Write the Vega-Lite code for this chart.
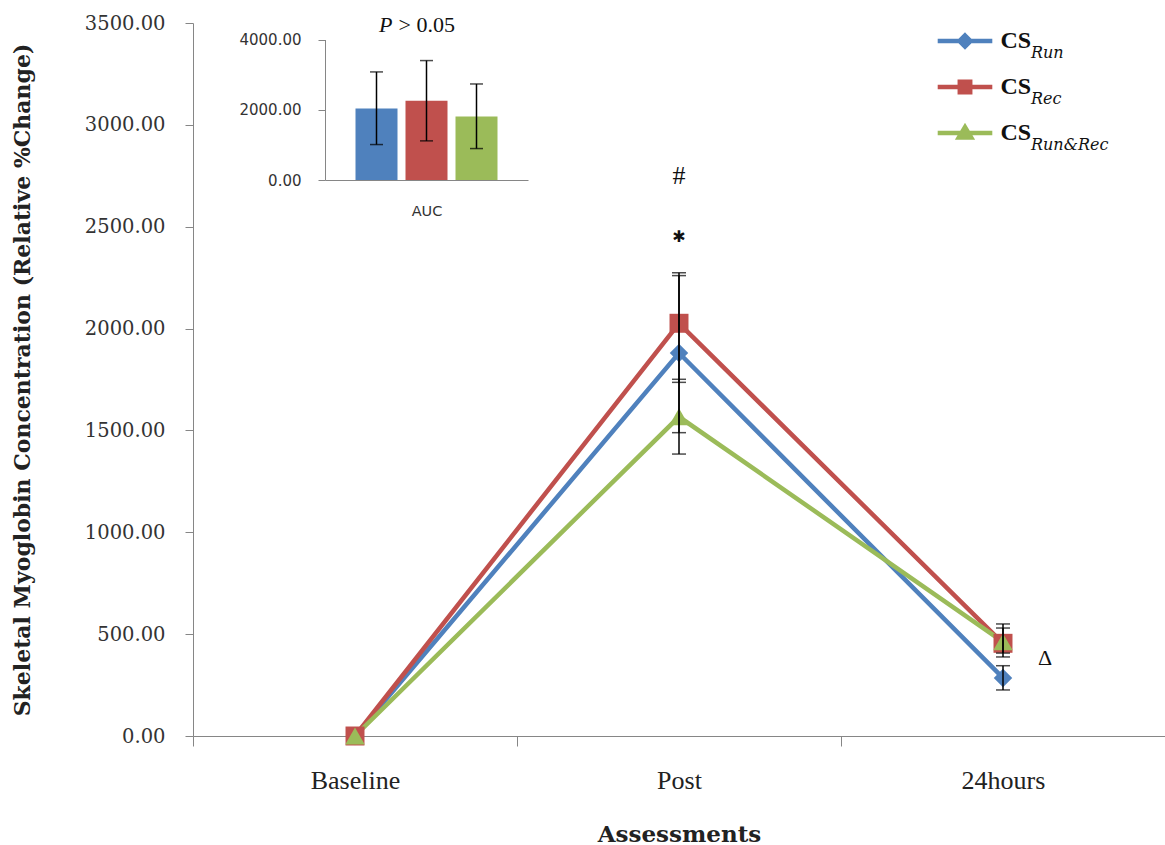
{
  "$schema": "https://vega.github.io/schema/vega-lite/v6.json",
  "width": 972,
  "height": 713,
  "autosize": {"type": "none"},
  "padding": {"left": 193, "top": 23, "right": 0, "bottom": 109},
  "background": "white",
  "config": {"view": {"stroke": null}, "axis": {"grid": false}},
  "datasets": {
    "main": [
      {"time": "Baseline", "series": "CS Run", "value": 0, "lo": null, "hi": null},
      {"time": "Baseline", "series": "CS Rec", "value": 0, "lo": null, "hi": null},
      {"time": "Baseline", "series": "CS Run&Rec", "value": 0, "lo": null, "hi": null},
      {"time": "Post", "series": "CS Run", "value": 1880, "lo": 1489, "hi": 2260},
      {"time": "Post", "series": "CS Rec", "value": 2026, "lo": 1736, "hi": 2274},
      {"time": "Post", "series": "CS Run&Rec", "value": 1567, "lo": 1384, "hi": 1751},
      {"time": "24hours", "series": "CS Run", "value": 285, "lo": 226, "hi": 345},
      {"time": "24hours", "series": "CS Rec", "value": 455, "lo": 388, "hi": 550},
      {"time": "24hours", "series": "CS Run&Rec", "value": 462, "lo": 407, "hi": 530}
    ],
    "auc": [
      {"series": "CS Run", "value": 2037, "lo": 1009, "hi": 3077},
      {"series": "CS Rec", "value": 2257, "lo": 1114, "hi": 3400},
      {"series": "CS Run&Rec", "value": 1810, "lo": 895, "hi": 2734}
    ]
  },
  "layer": [
    {
      "data": {"name": "main"},
      "mark": {"type": "line", "strokeWidth": 4.5},
      "encoding": {
        "x": {
          "field": "time", "type": "nominal", "sort": ["Baseline", "Post", "24hours"],
          "scale": {"type": "band", "domain": ["Baseline", "Post", "24hours"], "paddingInner": 0, "paddingOuter": 0},
          "axis": {
            "orient": "bottom", "title": "Assessments", "labelAngle": 0, "tickBand": "extent",
            "domainColor": "#868686", "tickColor": "#868686", "tickSize": 10,
            "labelFont": "Liberation Serif", "labelFontSize": 26, "labelColor": "#222", "labelPadding": 21,
            "titleFont": "DejaVu Serif", "titleFontWeight": "bold", "titleFontSize": 23, "titleColor": "#222", "titlePadding": 30
          }
        },
        "y": {
          "field": "value", "type": "quantitative",
          "scale": {"domain": [0, 3500], "nice": false},
          "axis": {
            "orient": "left",
            "title": "Skeletal Myoglobin Concentration (Relative %Change)",
            "values": [0, 500, 1000, 1500, 2000, 2500, 3000, 3500], "format": ".2f",
            "domainColor": "#868686", "tickColor": "#868686", "tickSize": 8,
            "labelFont": "DejaVu Serif", "labelFontSize": 19.5, "labelColor": "#333", "labelPadding": 20,
            "titleFont": "DejaVu Serif", "titleFontWeight": "bold", "titleFontSize": 22, "titleColor": "#222", "titlePadding": 50
          }
        },
        "color": {
          "field": "series", "type": "nominal",
          "scale": {"domain": ["CS Run", "CS Rec", "CS Run&Rec"], "range": ["#4F81BD", "#C0504D", "#9BBB59"]},
          "legend": null
        }
      }
    },
    {
      "data": {"name": "main"},
      "mark": {"type": "point", "filled": true, "opacity": 1, "strokeWidth": 0},
      "encoding": {
        "x": {"field": "time", "type": "nominal", "sort": ["Baseline", "Post", "24hours"], "scale": {"type": "band", "domain": ["Baseline", "Post", "24hours"], "paddingInner": 0, "paddingOuter": 0}, "axis": null},
        "y": {"field": "value", "type": "quantitative", "scale": {"domain": [0, 3500], "nice": false}, "axis": null},
        "color": {"field": "series", "type": "nominal", "scale": {"domain": ["CS Run", "CS Rec", "CS Run&Rec"], "range": ["#4F81BD", "#C0504D", "#9BBB59"]}, "legend": null},
        "shape": {"field": "series", "type": "nominal", "scale": {"domain": ["CS Run", "CS Rec", "CS Run&Rec"], "range": ["diamond", "square", "triangle-up"]}, "legend": null},
        "size": {"field": "series", "type": "nominal", "scale": {"domain": ["CS Run", "CS Rec", "CS Run&Rec"], "range": [340, 380, 330]}, "legend": null}
      }
    },
    {
      "data": {"name": "main"},
      "mark": {"type": "rule", "color": "black", "strokeWidth": 1.5},
      "encoding": {
        "x": {"field": "time", "type": "nominal", "sort": ["Baseline", "Post", "24hours"], "scale": {"type": "band", "domain": ["Baseline", "Post", "24hours"], "paddingInner": 0, "paddingOuter": 0}, "axis": null},
        "y": {"field": "lo", "type": "quantitative", "scale": {"domain": [0, 3500], "nice": false}, "axis": null},
        "y2": {"field": "hi"}
      }
    },
    {
      "data": {"name": "main"},
      "mark": {"type": "tick", "color": "black", "thickness": 1.5, "size": 14},
      "encoding": {
        "x": {"field": "time", "type": "nominal", "sort": ["Baseline", "Post", "24hours"], "scale": {"type": "band", "domain": ["Baseline", "Post", "24hours"], "paddingInner": 0, "paddingOuter": 0}, "axis": null},
        "y": {"field": "lo", "type": "quantitative", "scale": {"domain": [0, 3500], "nice": false}, "axis": null}
      }
    },
    {
      "data": {"name": "main"},
      "mark": {"type": "tick", "color": "black", "thickness": 1.5, "size": 14},
      "encoding": {
        "x": {"field": "time", "type": "nominal", "sort": ["Baseline", "Post", "24hours"], "scale": {"type": "band", "domain": ["Baseline", "Post", "24hours"], "paddingInner": 0, "paddingOuter": 0}, "axis": null},
        "y": {"field": "hi", "type": "quantitative", "scale": {"domain": [0, 3500], "nice": false}, "axis": null}
      }
    },
    {
      "data": {"values": [{"time": "Post", "y": 2750, "label": "#"}]},
      "mark": {"type": "text", "font": "Liberation Serif", "fontSize": 26, "color": "#111"},
      "encoding": {
        "x": {"field": "time", "type": "nominal", "scale": {"type": "band", "domain": ["Baseline", "Post", "24hours"], "paddingInner": 0, "paddingOuter": 0}, "axis": null},
        "y": {"field": "y", "type": "quantitative", "scale": {"domain": [0, 3500], "nice": false}, "axis": null},
        "text": {"field": "label"}
      }
    },
    {
      "data": {"values": [{"time": "Post", "y": 2450, "label": "✱"}]},
      "mark": {"type": "text", "font": "DejaVu Sans", "fontSize": 16, "color": "#111"},
      "encoding": {
        "x": {"field": "time", "type": "nominal", "scale": {"type": "band", "domain": ["Baseline", "Post", "24hours"], "paddingInner": 0, "paddingOuter": 0}, "axis": null},
        "y": {"field": "y", "type": "quantitative", "scale": {"domain": [0, 3500], "nice": false}, "axis": null},
        "text": {"field": "label"}
      }
    },
    {
      "data": {"values": [{"time": "24hours", "y": 385, "label": "Δ"}]},
      "mark": {"type": "text", "font": "Liberation Serif", "fontSize": 22, "color": "#111", "dx": 42},
      "encoding": {
        "x": {"field": "time", "type": "nominal", "scale": {"type": "band", "domain": ["Baseline", "Post", "24hours"], "paddingInner": 0, "paddingOuter": 0}, "axis": null},
        "y": {"field": "y", "type": "quantitative", "scale": {"domain": [0, 3500], "nice": false}, "axis": null},
        "text": {"field": "label"}
      }
    },
    {
      "data": {"values": []},
      "mark": {"type": "point", "filled": true, "opacity": 1, "strokeWidth": 4.5},
      "encoding": {
        "color": {
          "field": "series", "type": "nominal",
          "scale": {"domain": ["CS Run", "CS Rec", "CS Run&Rec"], "range": ["#4F81BD", "#C0504D", "#9BBB59"]},
          "legend": {
            "orient": "none", "legendX": 760, "legendY": 6, "title": null, "padding": 0,
            "symbolSize": 169, "symbolStrokeWidth": 4.5, "symbolOpacity": 1, "labelOffset": 23.5,
            "labelFont": "Liberation Serif", "labelFontWeight": "bold", "labelFontSize": 24, "labelColor": "#111",
            "labelExpr": "'CS'", "rowPadding": 16
          }
        },
        "stroke": {
          "field": "series", "type": "nominal",
          "scale": {"domain": ["CS Run", "CS Rec", "CS Run&Rec"], "range": ["#4F81BD", "#C0504D", "#9BBB59"]}
        },
        "shape": {
          "field": "series", "type": "nominal",
          "scale": {"domain": ["CS Run", "CS Rec", "CS Run&Rec"], "range": [
            "M0,-0.85L0.85,0L0,0.85L-0.85,0Z M-4.2,0H4.2",
            "M-0.8,-0.8H0.8V0.8H-0.8Z M-4.2,0H4.2",
            "M0,-0.9L0.95,0.7H-0.95Z M-4.2,0H4.2"
          ]}
        }
      }
    },
    {
      "data": {"values": []},
      "mark": {"type": "point"},
      "encoding": {
        "strokeDash": {
          "field": "sub", "type": "nominal",
          "scale": {"domain": ["Run", "Rec", "Run&Rec"]},
          "legend": {
            "orient": "none", "legendX": 822, "legendY": 22, "title": null, "padding": 0,
            "symbolSize": 1, "symbolOpacity": 0, "labelOffset": 0,
            "labelFont": "DejaVu Serif", "labelFontStyle": "italic", "labelFontSize": 16, "labelColor": "#111",
            "rowPadding": 30
          }
        }
      }
    },
    {
      "data": {"name": "auc"},
      "mark": {"type": "bar"},
      "encoding": {
        "x": {
          "field": "series", "type": "nominal", "sort": ["CS Run", "CS Rec", "CS Run&Rec"],
          "scale": {"type": "band", "domain": ["CS Run", "CS Rec", "CS Run&Rec"], "range": [132, 335], "paddingInner": 0.16, "paddingOuter": 0.61},
          "axis": {
            "orient": "bottom", "offset": -556, "labels": false, "ticks": false, "title": "AUC",
            "domainColor": "#868686", "titleFont": "DejaVu Sans", "titleFontSize": 14.5, "titleFontWeight": "normal",
            "titleColor": "#333", "titlePadding": 24
          }
        },
        "y": {
          "field": "value", "type": "quantitative",
          "scale": {"domain": [0, 4000], "nice": false, "range": [157, 16.5]},
          "axis": {
            "orient": "left", "offset": -132, "values": [0, 2000, 4000], "format": ".2f", "title": null,
            "domainColor": "#868686", "tickColor": "#868686", "tickSize": 7,
            "labelFont": "DejaVu Sans", "labelFontSize": 15, "labelColor": "#333", "labelPadding": 17
          }
        },
        "color": {
          "field": "series", "type": "nominal",
          "scale": {"domain": ["CS Run", "CS Rec", "CS Run&Rec"], "range": ["#4F81BD", "#C0504D", "#9BBB59"]},
          "legend": null
        }
      }
    },
    {
      "data": {"name": "auc"},
      "mark": {"type": "rule", "color": "black", "strokeWidth": 1.5},
      "encoding": {
        "x": {"field": "series", "type": "nominal", "scale": {"type": "band", "domain": ["CS Run", "CS Rec", "CS Run&Rec"], "range": [132, 335], "paddingInner": 0.16, "paddingOuter": 0.61}, "axis": null},
        "y": {"field": "lo", "type": "quantitative", "scale": {"domain": [0, 4000], "nice": false, "range": [157, 16.5]}, "axis": null},
        "y2": {"field": "hi"}
      }
    },
    {
      "data": {"name": "auc"},
      "mark": {"type": "tick", "color": "black", "thickness": 1.5, "size": 13},
      "encoding": {
        "x": {"field": "series", "type": "nominal", "scale": {"type": "band", "domain": ["CS Run", "CS Rec", "CS Run&Rec"], "range": [132, 335], "paddingInner": 0.16, "paddingOuter": 0.61}, "axis": null},
        "y": {"field": "lo", "type": "quantitative", "scale": {"domain": [0, 4000], "nice": false, "range": [157, 16.5]}, "axis": null}
      }
    },
    {
      "data": {"name": "auc"},
      "mark": {"type": "tick", "color": "black", "thickness": 1.5, "size": 13},
      "encoding": {
        "x": {"field": "series", "type": "nominal", "scale": {"type": "band", "domain": ["CS Run", "CS Rec", "CS Run&Rec"], "range": [132, 335], "paddingInner": 0.16, "paddingOuter": 0.61}, "axis": null},
        "y": {"field": "hi", "type": "quantitative", "scale": {"domain": [0, 4000], "nice": false, "range": [157, 16.5]}, "axis": null}
      }
    },
    {
      "data": {"values": [{"series": "CS Rec", "y": 4413, "label": "P"}]},
      "mark": {"type": "text", "font": "Liberation Serif", "fontStyle": "italic", "fontSize": 22, "color": "#111", "align": "right", "dx": -34},
      "encoding": {
        "x": {"field": "series", "type": "nominal", "scale": {"type": "band", "domain": ["CS Run", "CS Rec", "CS Run&Rec"], "range": [132, 335], "paddingInner": 0.16, "paddingOuter": 0.61}, "axis": null},
        "y": {"field": "y", "type": "quantitative", "scale": {"domain": [0, 4000], "nice": false, "range": [157, 16.5]}, "axis": null},
        "text": {"field": "label"}
      }
    },
    {
      "data": {"values": [{"series": "CS Rec", "y": 4413, "label": "> 0.05"}]},
      "mark": {"type": "text", "font": "Liberation Serif", "fontSize": 22, "color": "#111", "align": "left", "dx": -28},
      "encoding": {
        "x": {"field": "series", "type": "nominal", "scale": {"type": "band", "domain": ["CS Run", "CS Rec", "CS Run&Rec"], "range": [132, 335], "paddingInner": 0.16, "paddingOuter": 0.61}, "axis": null},
        "y": {"field": "y", "type": "quantitative", "scale": {"domain": [0, 4000], "nice": false, "range": [157, 16.5]}, "axis": null},
        "text": {"field": "label"}
      }
    }
  ],
  "resolve": {"scale": {"x": "independent", "y": "independent", "color": "independent", "shape": "independent", "stroke": "independent", "size": "independent"}}
}
